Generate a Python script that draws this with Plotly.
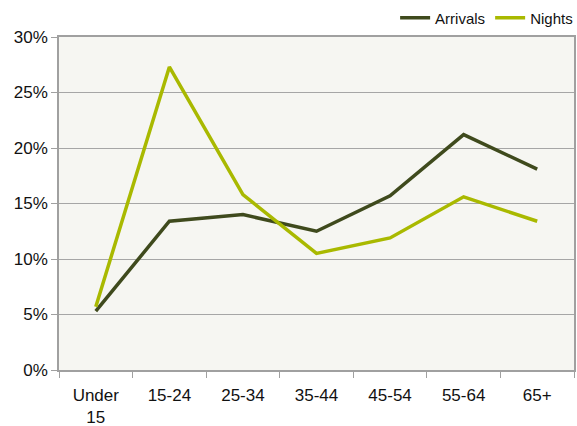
import plotly.graph_objects as go

# Age bands and share of visitors (%)
age_groups = ["Under<br>15", "15-24", "25-34", "35-44", "45-54", "55-64", "65+"]
arrivals = [5.3, 13.4, 14.0, 12.5, 15.7, 21.2, 18.1]
nights = [5.7, 27.3, 15.8, 10.5, 11.9, 15.6, 13.4]

fig = go.Figure()
fig.add_trace(go.Scatter(
    x=age_groups, y=arrivals, name="Arrivals", mode="lines",
    line=dict(color="#3f4a1d", width=3.5),
))
fig.add_trace(go.Scatter(
    x=age_groups, y=nights, name="Nights", mode="lines",
    line=dict(color="#a9b900", width=3.5),
))

fig.update_layout(
    width=577, height=426,
    margin=dict(l=59, r=3, t=37, b=56, autoexpand=False),
    paper_bgcolor="white",
    plot_bgcolor="#f6f6f2",
    font=dict(family="Liberation Sans, Arial, sans-serif", size=17, color="#111111"),
    showlegend=True,
    legend=dict(
        orientation="h", x=1.008, xanchor="right", y=1.057, yanchor="middle",
        font=dict(size=15), bgcolor="rgba(0,0,0,0)",
        itemwidth=30, tracegroupgap=0,
    ),
)
fig.update_xaxes(
    type="category", range=[-0.5, len(age_groups) - 0.5],
    showline=True, linecolor="#a0a0a0", linewidth=1.5, mirror=True,
    ticks="outside", tickson="boundaries", ticklen=6, tickcolor="#a0a0a0",
    ticklabelstandoff=9,
    showgrid=False,
)
fig.update_yaxes(
    range=[0, 30], dtick=5, ticksuffix="%",
    showline=True, linecolor="#a0a0a0", linewidth=1.5, mirror=True,
    ticks="outside", ticklen=6, tickcolor="#a0a0a0",
    showgrid=True, gridcolor="#a6a6a6", gridwidth=1,
    zeroline=False,
)

fig.write_html("out.html")
